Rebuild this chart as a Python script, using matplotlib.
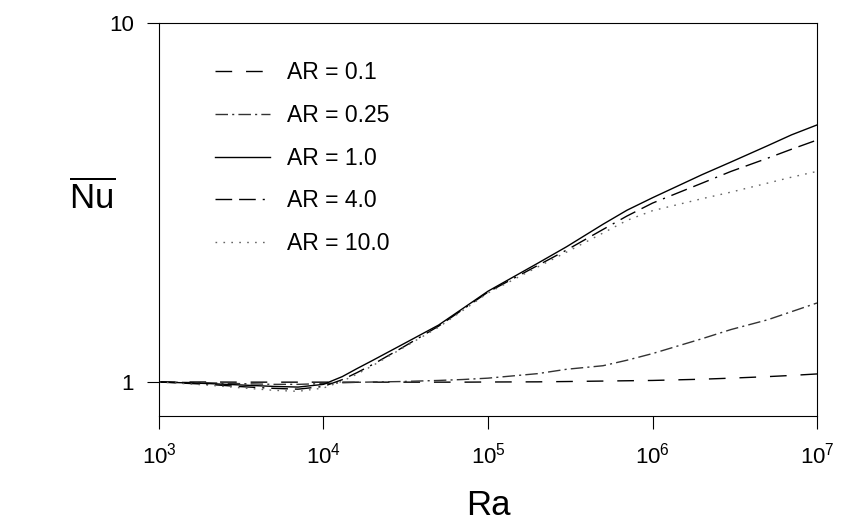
import matplotlib
matplotlib.use("Agg")
import matplotlib.pyplot as plt
from matplotlib.ticker import FixedLocator, FixedFormatter, LogFormatterMathtext, NullLocator

plt.rcParams['font.family'] = ['Liberation Sans', 'DejaVu Sans']
plt.rcParams['mathtext.fontset'] = 'custom'
plt.rcParams['mathtext.rm'] = 'Liberation Sans'
plt.rcParams['mathtext.it'] = 'Liberation Sans:italic'
plt.rcParams['mathtext.bf'] = 'Liberation Sans:bold'

# ---- data ----
ra = [1e3, 2e3, 3e3, 5e3, 7e3, 1e4, 1.3e4, 1.6e4, 2e4, 3e4, 5e4, 7e4,
      1e5, 2e5, 3e5, 5e5, 7e5, 1e6, 2e6, 3e6, 5e6, 7e6, 1e7]

nu_ar01 = [1.000, 1.000, 0.999, 0.999, 0.999, 0.999, 0.999, 0.999, 0.999, 0.999, 0.999, 0.999,
           1.000, 1.001, 1.003, 1.006, 1.008, 1.010, 1.018, 1.025, 1.035, 1.043, 1.053]
nu_ar025 = [1.000, 0.995, 0.990, 0.985, 0.985, 0.990, 0.995, 0.998, 1.000, 1.003, 1.010, 1.016,
            1.025, 1.055, 1.085, 1.110, 1.150, 1.200, 1.320, 1.400, 1.490, 1.570, 1.660]
nu_ar1 = [1.000, 0.990, 0.982, 0.972, 0.968, 0.985, 1.035, 1.090, 1.150, 1.270, 1.440, 1.600,
          1.790, 2.140, 2.380, 2.750, 3.010, 3.260, 3.780, 4.100, 4.550, 4.880, 5.200]
nu_ar4 = [1.000, 0.985, 0.972, 0.960, 0.955, 0.972, 1.015, 1.062, 1.120, 1.245, 1.430, 1.590,
          1.780, 2.110, 2.330, 2.660, 2.900, 3.150, 3.580, 3.860, 4.200, 4.450, 4.720]
nu_ar10 = [1.000, 0.980, 0.965, 0.948, 0.942, 0.962, 1.005, 1.052, 1.112, 1.240, 1.420, 1.580,
           1.770, 2.090, 2.300, 2.600, 2.820, 3.000, 3.240, 3.380, 3.580, 3.720, 3.860]

labels = ['AR = 0.1', 'AR = 0.25', 'AR = 1.0', 'AR = 4.0', 'AR = 10.0']
x_ticks = [1e3, 1e4, 1e5, 1e6, 1e7]
y_ticks = [1, 10]
y_tick_labels = ['1', '10']

# ---- figure ----
fig = plt.figure(figsize=(8.41, 5.27), dpi=100)
ax = fig.add_axes([0.189, 0.2106, 0.7825, 0.7458])

series = [nu_ar01, nu_ar025, nu_ar1, nu_ar4, nu_ar10]
styles = [
    dict(color='black', dashes=(12, 10)),
    dict(color='0.2', dashes=(9, 3, 1.5, 3)),
    dict(color='black', linestyle='-'),
    dict(color='black', dashes=(12, 5, 12, 5, 1.5, 5)),
    dict(color='0.4', dashes=(1.2, 4.5)),
]
for nu, lab, st in zip(series, labels, styles):
    ax.plot(ra, nu, lw=1.0, label=lab, **st)

ax.set_xscale('log')
ax.set_yscale('log')
ax.set_xlim(1e3, 1e7)
ax.set_ylim(0.804, 10)

ax.xaxis.set_major_locator(FixedLocator(x_ticks))
ax.xaxis.set_major_formatter(LogFormatterMathtext())
ax.xaxis.set_minor_locator(NullLocator())
ax.yaxis.set_major_locator(FixedLocator(y_ticks))
ax.yaxis.set_major_formatter(FixedFormatter(y_tick_labels))
ax.yaxis.set_minor_locator(NullLocator())

ax.tick_params(axis='both', which='major', direction='out', length=9, width=0.8,
               labelsize=16, color='black')
ax.tick_params(axis='x', pad=10)
ax.tick_params(axis='y', pad=9)
for s in ax.spines.values():
    s.set_linewidth(0.8)
    s.set_color('black')

ax.set_xlabel('Ra', fontsize=25, labelpad=15)
fig.text(0.110, 0.626, r'$\overline{\mathrm{Nu}}$', fontsize=25, ha='center', va='center')

leg = ax.legend(loc='upper left', bbox_to_anchor=(0.2557, 0.884),
                bbox_transform=fig.transFigure, frameon=False, fontsize=16.5,
                handlelength=2.4, handletextpad=0.75, labelspacing=0.86,
                borderpad=0, borderaxespad=0)

fig.savefig('out.png', dpi=100)
